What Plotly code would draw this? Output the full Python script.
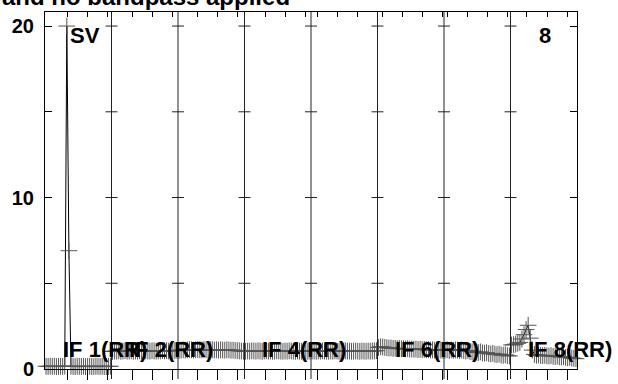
import plotly.graph_objects as go

# ---------------- data ----------------
n_chan = 32
if_labels = ["IF 1(RR)", "IF 2(RR)", "IF 3(RR)", "IF 4(RR)",
             "IF 5(RR)", "IF 6(RR)", "IF 7(RR)", "IF 8(RR)"]
shown_label_ifs = [1, 2, 4, 6, 8]

if1 = [0.16, 0.15, 0.17, 0.15, 0.16, 0.14, 0.15, 0.16, 0.15, 0.17, 20.0, 6.9,
       0.16, 0.15, 0.14, 0.16, 0.15, 0.15, 0.16, 0.14, 0.15, 0.16, 0.15, 0.14,
       0.16, 0.15, 0.15, 0.16, 0.14, 0.15, 0.15, 0.16]
if2 = [1.02, 1.05, 1.04, 1.06, 1.03, 1.05, 1.07, 1.04, 1.05, 1.06, 1.03, 1.05,
       1.04, 1.06, 1.05, 1.03, 1.06, 1.05, 1.04, 1.07, 1.05, 1.04, 1.06, 1.05,
       1.08, 1.06, 1.07, 1.05, 1.08, 1.06, 1.07, 1.08]
if3 = [1.08, 1.10, 1.12, 1.10, 1.11, 1.13, 1.12, 1.10, 1.12, 1.14, 1.12, 1.11,
       1.13, 1.12, 1.10, 1.12, 1.13, 1.11, 1.12, 1.10, 1.12, 1.11, 1.10, 1.12,
       1.11, 1.09, 1.10, 1.08, 1.07, 1.06, 1.05, 1.04]
if4 = [1.03, 1.05, 1.04, 1.06, 1.05, 1.04, 1.06, 1.05, 1.03, 1.05, 1.06, 1.04,
       1.05, 1.03, 1.04, 1.06, 1.05, 1.04, 1.03, 1.05, 1.04, 1.06, 1.05, 1.04,
       1.03, 1.05, 1.04, 1.03, 1.05, 1.04, 1.03, 1.04]
if5 = [1.04, 1.05, 1.03, 1.05, 1.04, 1.06, 1.05, 1.04, 1.03, 1.05, 1.04, 1.06,
       1.05, 1.03, 1.04, 1.05, 1.06, 1.04, 1.05, 1.03, 1.04, 1.05, 1.04, 1.03,
       1.05, 1.04, 1.03, 1.05, 1.04, 1.05, 1.06, 1.07]
if6 = [1.25, 1.30, 1.28, 1.26, 1.24, 1.22, 1.23, 1.20, 1.21, 1.19, 1.20, 1.18,
       1.19, 1.17, 1.18, 1.16, 1.17, 1.15, 1.16, 1.14, 1.15, 1.13, 1.14, 1.12,
       1.13, 1.11, 1.12, 1.10, 1.11, 1.09, 1.10, 1.08]
if7 = [1.10, 1.12, 1.08, 1.11, 1.09, 1.12, 1.10, 1.08, 1.11, 1.07, 1.05, 1.08,
       1.02, 1.00, 1.04, 0.98, 0.96, 1.00, 0.94, 0.92, 0.95, 0.90, 0.88, 0.91,
       0.86, 0.84, 0.87, 0.82, 0.80, 0.83, 0.78, 0.76]
if8 = [1.40, 1.42, 1.45, 1.50, 1.55, 1.75, 2.00, 2.30, 2.55, 1.80, 1.10, 0.85,
       0.80, 0.82, 0.79, 0.78, 0.80, 0.77, 0.76, 0.78, 0.74, 0.73, 0.75, 0.71,
       0.70, 0.72, 0.68, 0.66, 0.68, 0.64, 0.62, 0.60]
if_values = [if1, if2, if3, if4, if5, if6, if7, if8]

y_tick_vals = [0, 5, 10, 15, 20]
y_tick_text = ["0", "", "10", "", "20"]
# channel-axis ticks (in IF-panel units)
x_tick_vals = [0.334, 0.635, 0.935,
               1.310, 1.611, 1.912,
               2.290, 2.591, 2.892,
               3.311, 3.612, 3.913,
               4.099, 4.400, 4.701,
               5.075, 5.376, 5.677, 5.978,
               6.055, 6.356, 6.657, 6.958,
               7.248, 7.549, 7.850]
title_text = "and no bandpass applied"
source_text = "SV"
panel_text = "8"

# ---------------- figure ----------------
W, H = 618, 384
ML, MR, MT, MB = 45, 41, 12, 15
FONT = "Liberation Sans, Arial, Helvetica, sans-serif"

fig = go.Figure()
n_if = len(if_values)
for k, vals in enumerate(if_values):
    xs = [k + (c + 0.5) / n_chan for c in range(len(vals))]
    fig.add_trace(go.Scatter(
        x=xs, y=vals, mode="lines+markers",
        line=dict(color="black", width=1),
        marker=dict(symbol="cross-thin", size=12,
                    line=dict(color="#555", width=1)),
        cliponaxis=False, showlegend=False, hoverinfo="skip"))

# dummy trace for the top axis
fig.add_trace(go.Scatter(x=[0], y=[0], xaxis="x2", mode="markers",
                         marker=dict(opacity=0), showlegend=False,
                         hoverinfo="skip"))

fig.update_layout(
    template="none",
    width=W, height=H,
    margin=dict(l=ML, r=MR, t=MT, b=MB, pad=0, autoexpand=False),
    paper_bgcolor="white", plot_bgcolor="white",
    font=dict(family=FONT, color="black"),
    hovermode=False,
    xaxis=dict(range=[0, n_if], showgrid=False, zeroline=False,
               automargin=False,
               showline=True, linecolor="black", linewidth=1,
               ticks="outside", ticklen=10, tickwidth=1, tickcolor="black",
               tickvals=x_tick_vals, showticklabels=False),
    xaxis2=dict(range=[0, n_if], overlaying="x", side="top", matches="x",
                showgrid=False, zeroline=False, automargin=False,
                showline=True, linecolor="black", linewidth=1,
                ticks="inside", ticklen=5, tickwidth=1, tickcolor="black",
                tickvals=x_tick_vals, showticklabels=False),
    yaxis=dict(range=[0, 20.82], showgrid=False, zeroline=False,
               automargin=False,
               showline=True, linecolor="black", linewidth=1, mirror="ticks",
               ticks="inside", ticklen=7, tickwidth=1, tickcolor="black",
               tickvals=y_tick_vals, ticktext=y_tick_text,
               tickfont=dict(family=FONT, size=20, color="black", weight="bold"),
               ticklabelstandoff=6),
)

# panel separators with cross ticks
for k in range(1, n_if):
    fig.add_shape(type="line", xref="x", yref="paper", x0=k, x1=k,
                  y0=-10 / (H - MT - MB), y1=1,
                  line=dict(color="#222", width=1))
    for v in y_tick_vals[1:]:
        fig.add_shape(type="line", xref="x", yref="y", xsizemode="pixel",
                      xanchor=k, x0=-6, x1=6, y0=v, y1=v,
                      line=dict(color="#222", width=1))

# IF labels
for idx in shown_label_ifs:
    k = idx - 1
    fig.add_annotation(x=k + 15.5 / 66.5, y=1.12, xref="x", yref="y",
                       text=if_labels[k], showarrow=False,
                       xanchor="left", yanchor="middle",
                       font=dict(family=FONT, size=22, color="black",
                                 weight="bold"))

pw = W - ML - MR
ph = H - MT - MB
fig.add_annotation(x=(68 - ML) / pw, y=1 - (35 - MT) / ph, xref="paper",
                   yref="paper", text=source_text, showarrow=False,
                   xanchor="left", yanchor="middle",
                   font=dict(family=FONT, size=22, color="black", weight="bold"))
fig.add_annotation(x=(537 - ML) / pw, y=1 - (36 - MT) / ph, xref="paper",
                   yref="paper", text=panel_text, showarrow=False,
                   xanchor="left", yanchor="middle",
                   font=dict(family=FONT, size=22, color="black", weight="bold"))
fig.add_annotation(x=(0 - ML) / pw, y=1 + (MT + 3) / ph, xref="paper",
                   yref="paper", text=title_text, showarrow=False,
                   xanchor="left", yanchor="middle",
                   font=dict(family=FONT, size=24, color="black", weight="bold"))

fig.write_html("out.html",
               config={"displayModeBar": False, "staticPlot": True},
               post_script="document.body.style.margin='0px';"
                           "document.body.style.padding='0px';")
